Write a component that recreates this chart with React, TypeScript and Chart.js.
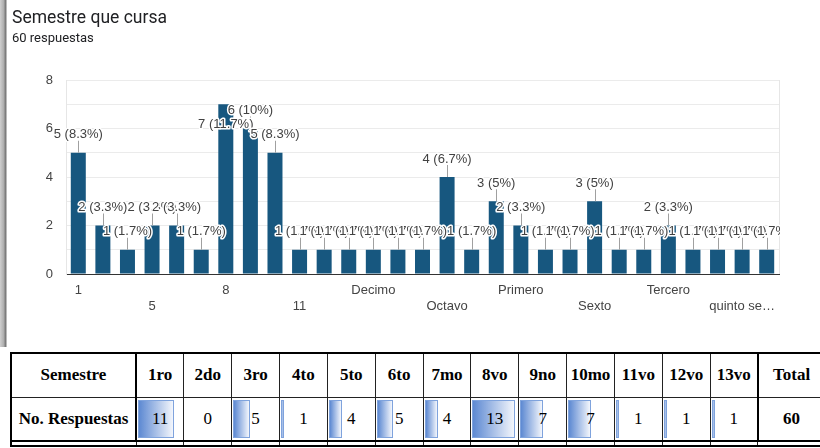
import React, { useEffect, useRef } from "react";
import { Chart, registerables } from "chart.js";

Chart.register(...registerables);

// ---- chart data ----
const categories = [
  "1", "2", "3", "5", "6", "7", "8", "9", "10", "11",
  "11vo", "Cuarto", "Decimo", "Noveno", "Noveno semestre",
  "Octavo", "Octavo semestre", "Onceavo", "Primero", "Quinto",
  "Segundo", "Sexto", "Sexto semestre", "Septimo", "Tercero",
  "Tercer semestre", "noveno", "quinto semestre", "septimo",
];
const responses = [
  5, 2, 1, 2, 2, 1, 7, 6, 5, 1,
  1, 1, 1, 1, 1,
  4, 1, 3, 2, 1,
  1, 3, 1, 1, 2,
  1, 1, 1, 1,
];
const totalResponses = 60;
const yTickLabels = [0, 2, 4, 6, 8];

// ---- table data ----
const tableSemesters = ["1ro", "2do", "3ro", "4to", "5to", "6to", "7mo", "8vo", "9no", "10mo", "11vo", "12vo", "13vo"];
const tableCounts = [11, 0, 5, 1, 4, 5, 4, 13, 7, 7, 1, 1, 1];
const tableTotal = 60;

const FONT = "'Liberation Sans', Arial, sans-serif";
const SERIF = "'Liberation Serif', 'Times New Roman', serif";

function pctLabel(v: number) {
  const p = Math.round((v / totalResponses) * 1000) / 10;
  return `${v} (${p}%)`;
}

function shortName(s: string) {
  return s.length > 10 ? s.slice(0, 9) + "\u2026" : s;
}

const barLabelPlugin = {
  id: "barLabels",
  beforeDatasetsDraw(chart: any) {
    const { ctx, chartArea } = chart;
    ctx.save();
    ctx.strokeStyle = "#e6e6e6";
    ctx.lineWidth = 1;
    ctx.beginPath();
    const x = Math.round(chartArea.right) + 0.5;
    ctx.moveTo(x, chartArea.top);
    ctx.lineTo(x, chartArea.bottom);
    ctx.stroke();
    ctx.restore();
  },
  afterDatasetsDraw(chart: any) {
    const meta = chart.getDatasetMeta(0);
    const ctx = chart.ctx;
    const area = chart.chartArea;
    const top = area.top;
    ctx.save();
    ctx.beginPath();
    ctx.rect(0, 0, Math.round(area.right) + 1, chart.height);
    ctx.clip();
    ctx.font = `13px ${FONT}`;
    ctx.textAlign = "center";
    ctx.textBaseline = "middle";
    const items = meta.data.map((el: any, i: number) => {
      let ly = el.y - 18;
      let inside = false;
      if (ly - 7 < top) {
        ly = el.y + 20;
        inside = true;
      }
      return { x: el.x, y: el.y, ly, inside, text: pctLabel(responses[i]) };
    });
    ctx.strokeStyle = "#a0a0a0";
    ctx.lineWidth = 1;
    items.forEach((it: any) => {
      if (it.inside) return;
      const x = Math.round(it.x) + 0.5;
      ctx.beginPath();
      ctx.moveTo(x, it.ly + 6);
      ctx.lineTo(x, it.y);
      ctx.stroke();
    });
    items.forEach((it: any) => {
      ctx.lineJoin = "round";
      ctx.lineWidth = 3;
      ctx.strokeStyle = "#ffffff";
      ctx.strokeText(it.text, it.x, it.ly);
      ctx.fillStyle = "#424242";
      ctx.fillText(it.text, it.x, it.ly);
    });
    ctx.restore();
  },
};

function BarChart() {
  const ref = useRef<HTMLCanvasElement | null>(null);
  useEffect(() => {
    if (!ref.current) return;
    const chart = new Chart(ref.current, {
      type: "bar",
      data: {
        labels: categories,
        datasets: [
          {
            data: responses,
            backgroundColor: "#17577f",
            borderWidth: 0,
            barPercentage: 0.61,
            categoryPercentage: 1,
          },
        ],
      },
      options: {
        animation: false,
        responsive: false,
        devicePixelRatio: 1,
        layout: { padding: { left: 0, right: 41, top: 80, bottom: 0 } },
        plugins: { legend: { display: false }, tooltip: { enabled: false } },
        scales: {
          x: {
            grid: { display: false, drawTicks: false },
            border: { display: true, color: "#333333", width: 1 },
            ticks: {
              autoSkip: false,
              maxRotation: 0,
              minRotation: 0,
              padding: 7.5,
              color: "#444444",
              font: { family: FONT, size: 13, lineHeight: 1.3 },
              callback: (_v: any, index: number) => {
                if (index % 3 !== 0) return "";
                const name = shortName(categories[index]);
                return (index / 3) % 2 === 0 ? [name] : ["", name];
              },
            },
            afterFit: (scale: any) => {
              scale.height = 66;
            },
          },
          y: {
            min: 0,
            max: 8,
            grid: { color: "#ebebeb", lineWidth: 1, drawTicks: false },
            border: { display: true, color: "#e6e6e6" },
            ticks: {
              stepSize: 1,
              padding: 13,
              color: "#444444",
              font: { family: FONT, size: 13 },
              callback: (v: any) => (yTickLabels.includes(Number(v)) ? String(v) : ""),
            },
            afterFit: (scale: any) => {
              scale.width = 66;
            },
          },
        },
      },
      plugins: [barLabelPlugin],
    } as any);
    return () => chart.destroy();
  }, []);
  return (
    <canvas
      ref={ref}
      width={820}
      height={340}
      style={{ position: "absolute", left: 0, top: 0, width: 820, height: 340 }}
    />
  );
}

function DataTable() {
  const max = Math.max(...tableCounts);
  const thick = "2px solid #000";
  const thin = "1px solid #222";
  const base: React.CSSProperties = {
    fontFamily: SERIF,
    fontSize: 17,
    textAlign: "center",
    padding: 0,
    border: thin,
    position: "relative",
    color: "#000",
    overflow: "hidden",
  };
  return (
    <table
      style={{
        position: "absolute",
        left: 10,
        top: 352,
        borderCollapse: "collapse",
        tableLayout: "fixed",
        width: 125 + 13 * 47.85 + 80,
        border: thick,
      }}
    >
      <colgroup>
        <col style={{ width: 125 }} />
        {tableSemesters.map((s) => (
          <col key={s} style={{ width: 47.85 }} />
        ))}
        <col style={{ width: 80 }} />
      </colgroup>
      <tbody>
        <tr style={{ height: 44 }}>
          <td style={{ ...base, fontWeight: "bold", borderRight: thick }}>Semestre</td>
          {tableSemesters.map((s) => (
            <td key={s} style={{ ...base, fontWeight: "bold" }}>{s}</td>
          ))}
          <td style={{ ...base, fontWeight: "bold", borderLeft: thick, textAlign: "left", paddingLeft: 14 }}>Total</td>
        </tr>
        <tr style={{ height: 44 }}>
          <td style={{ ...base, fontWeight: "bold", borderRight: thick, borderBottom: thick }}>No. Respuestas</td>
          {tableCounts.map((v, i) => (
            <td key={i} style={{ ...base, borderBottom: thick }}>
              {v > 0 && (
                <div
                  style={{
                    position: "absolute",
                    left: 1,
                    top: 2,
                    bottom: 2,
                    width: `calc((100% - 4px) * ${v / max})`,
                    background: "linear-gradient(to right, #5d89d2, #f3f6fc)",
                    border: "1px solid #7fa3dd",
                    boxSizing: "border-box",
                  }}
                />
              )}
              <span style={{ position: "relative" }}>{v}</span>
            </td>
          ))}
          <td style={{ ...base, fontWeight: "bold", borderLeft: thick, borderBottom: thick, textAlign: "left", paddingLeft: 24 }}>{tableTotal}</td>
        </tr>
        <tr style={{ height: 5 }}>
          <td style={{ ...base, borderBottom: "1px solid #333" }} />
          {tableCounts.map((_v, i) => (
            <td key={i} style={{ ...base, borderBottom: "1px solid #333" }} />
          ))}
          <td style={{ ...base, borderBottom: "1px solid #333" }} />
        </tr>
      </tbody>
    </table>
  );
}

export default function App() {
  return (
    <div
      style={{
        position: "absolute",
        left: 0,
        top: 0,
        width: 820,
        height: 448,
        overflow: "hidden",
        background: "#fff",
      }}
    >
      <BarChart />
      <div
        style={{
          position: "absolute",
          left: 0,
          top: 0,
          width: 7,
          height: 347,
          background: "linear-gradient(to right, #cfcfcf, #b0b0b0 50%, #7a7a7a 80%, #dedede)",
        }}
      />
      <div
        style={{
          position: "absolute",
          left: 12,
          top: 7,
          fontFamily: "Roboto, 'Noto Sans', sans-serif",
          fontSize: 17.5,
          lineHeight: "20px",
          color: "#202124",
          whiteSpace: "nowrap",
        }}
      >
        Semestre que cursa
      </div>
      <div
        style={{
          position: "absolute",
          left: 12,
          top: 30,
          fontFamily: "Roboto, 'Noto Sans', sans-serif",
          fontSize: 13,
          lineHeight: "16px",
          color: "#202124",
          whiteSpace: "nowrap",
        }}
      >
        60 respuestas
      </div>
      <DataTable />
    </div>
  );
}
